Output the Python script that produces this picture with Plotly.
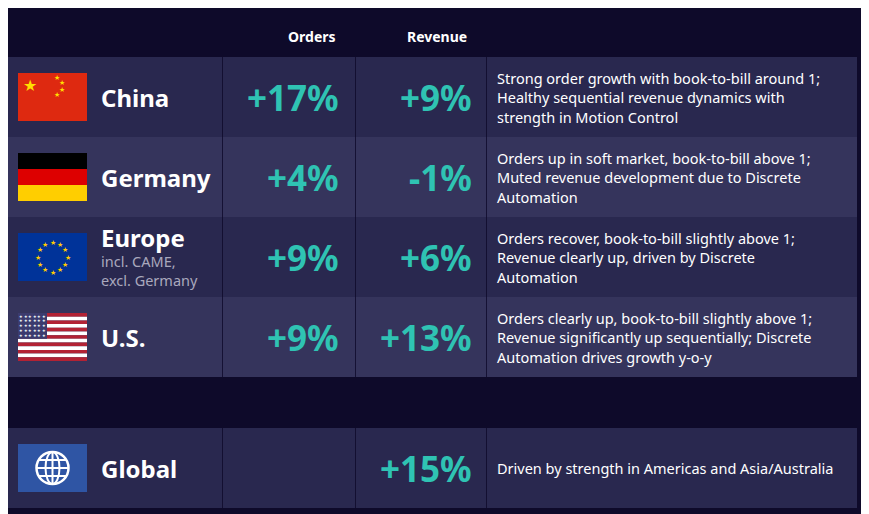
import math
import plotly.graph_objects as go

regions = ["China", "Germany", "Europe", "U.S."]
orders = ["+17%", "+4%", "+9%", "+9%"]
revenue = ["+9%", "-1%", "+6%", "+13%"]
notes = [
    ["Strong order growth with book-to-bill around 1;", "Healthy sequential revenue dynamics with", "strength in Motion Control"],
    ["Orders up in soft market, book-to-bill above 1;", "Muted revenue development due to Discrete", "Automation"],
    ["Orders recover, book-to-bill slightly above 1;", "Revenue clearly up, driven by Discrete", "Automation"],
    ["Orders clearly up, book-to-bill slightly above 1;", "Revenue significantly up sequentially; Discrete", "Automation drives growth y-o-y"],
]
sw_region = "Global"
sw_revenue = "+15%"
sw_note = "Driven by strength in Americas and Asia/Australia"

BG = "#0e0a2a"
TEAL = "#2fc3b3"
ROWS = ["#29284f", "#35345c"]

fig = go.Figure()
shapes = []
ann = []

def rect(x0, y0, x1, y1, color):
    shapes.append(dict(type="rect", x0=x0, y0=y0, x1=x1, y1=y1, fillcolor=color, line_width=0, layer="below"))

def text(x, y, t, size=14, color="white", bold=False, xanchor="left"):
    if bold:
        t = "<b>" + t + "</b>"
    ann.append(dict(x=x, y=y, text=t, showarrow=False, xanchor=xanchor, yanchor="middle",
                    font=dict(size=size, color=color, family="Noto Sans")))

text(2, 17, "Q3 FY26", 14, bold=True)
text(2, 36, "Key regions – Automation", 14, bold=True)
text(312, 36, "Orders", 14, bold=True, xanchor="center")
text(437, 36, "Revenue", 14, bold=True, xanchor="center")
text(2, 407, "Q3 FY26 – Software", 14, bold=True)

def row(top, i, name, o, r, lines):
    bot = top + 80
    c = ROWS[i % 2]
    rect(5, top, 222, bot, c)
    rect(222.8, top, 355, bot, c)
    rect(355.8, top, 486, bot, c)
    rect(486.8, top, 857, bot, c)
    mid = top + 40
    if o:
        text(341, mid, "<b>" + o + "</b>", 35, TEAL, xanchor="right")
    text(474, mid, "<b>" + r + "</b>", 35, TEAL, xanchor="right")
    n = len(lines)
    for k, ln in enumerate(lines):
        text(495, mid + (k - (n - 1) / 2) * 19.5, ln, 14.5)
    return mid

fx0, fx1 = 18, 87
for i, name in enumerate(regions):
    top = 57 + i * 80
    mid = row(top, i, name, orders[i], revenue[i], notes[i])
    fy0, fy1 = mid - 24, mid + 24
    if name == "China":
        rect(fx0, fy0, fx1, fy1, "#de2910")
        text(30, fy0 + 12, "★", 16, "#ffde00", xanchor="center")
        for dx, dy in [(43, 4), (48, 9), (48, 16), (43, 21)]:
            text(fx0 + dx - 4, fy0 + dy, "★", 7, "#ffde00", xanchor="center")
        text(99, mid, name, 24, bold=True)
    elif name == "Germany":
        rect(fx0, fy0, fx1, fy0 + 16, "#000000")
        rect(fx0, fy0 + 16, fx1, fy0 + 32, "#dd0000")
        rect(fx0, fy0 + 32, fx1, fy1, "#ffce00")
        text(99, mid, name, 24, bold=True)
    elif name == "Europe":
        rect(fx0, fy0, fx1, fy1, "#003399")
        cx, cy = (fx0 + fx1) / 2, mid
        for k in range(12):
            a = 2 * math.pi * k / 12
            text(cx + 15 * math.cos(a), cy + 15 * math.sin(a), "★", 7, "#ffcc00", xanchor="center")
        text(99, mid - 20, name, 24, bold=True)
        text(99, mid + 4, "incl. CAME,", 14.5, "#a9a8bd")
        text(99, mid + 23, "excl. Germany", 14.5, "#a9a8bd")
    else:
        h = 48 / 13
        for k in range(13):
            rect(fx0, fy0 + k * h, fx1, fy0 + (k + 1) * h, "#b22234" if k % 2 == 0 else "#ffffff")
        rect(fx0, fy0, fx0 + 29, fy0 + 7 * h, "#3c3b6e")
        for rr in range(5):
            for cc in range(6):
                text(fx0 + 3 + cc * 4.6, fy0 + 3 + rr * 4.8, "★", 4, "white", xanchor="center")
        text(99, mid, name, 24, bold=True)

top = 428
mid = row(top, 0, sw_region, "", sw_revenue, [sw_note])
rect(fx0, mid - 24, fx1, mid + 24, "#2f55a4")
cx, cy, rad = (fx0 + fx1) / 2, mid, 16
shapes.append(dict(type="circle", x0=cx - rad, y0=cy - rad, x1=cx + rad, y1=cy + rad, line=dict(color="white", width=2.5)))
shapes.append(dict(type="circle", x0=cx - 7, y0=cy - rad, x1=cx + 7, y1=cy + rad, line=dict(color="white", width=2)))
shapes.append(dict(type="line", x0=cx, y0=cy - rad, x1=cx, y1=cy + rad, line=dict(color="white", width=2)))
for dy in (-8, 0, 8):
    w = math.sqrt(rad ** 2 - dy ** 2)
    shapes.append(dict(type="line", x0=cx - w, y0=cy + dy, x1=cx + w, y1=cy + dy, line=dict(color="white", width=2)))
text(99, mid, sw_region, 24, bold=True)

# page has an 8px body margin; shift the ranges so content sits where the reference has it
fig.update_layout(
    width=869, height=514, margin=dict(l=0, r=0, t=0, b=0),
    paper_bgcolor=BG, plot_bgcolor=BG, showlegend=False,
    xaxis=dict(range=[8, 877], visible=False, fixedrange=True),
    yaxis=dict(range=[522, 8], visible=False, fixedrange=True),
    shapes=shapes, annotations=ann,
)
fig.write_html("out.html")
